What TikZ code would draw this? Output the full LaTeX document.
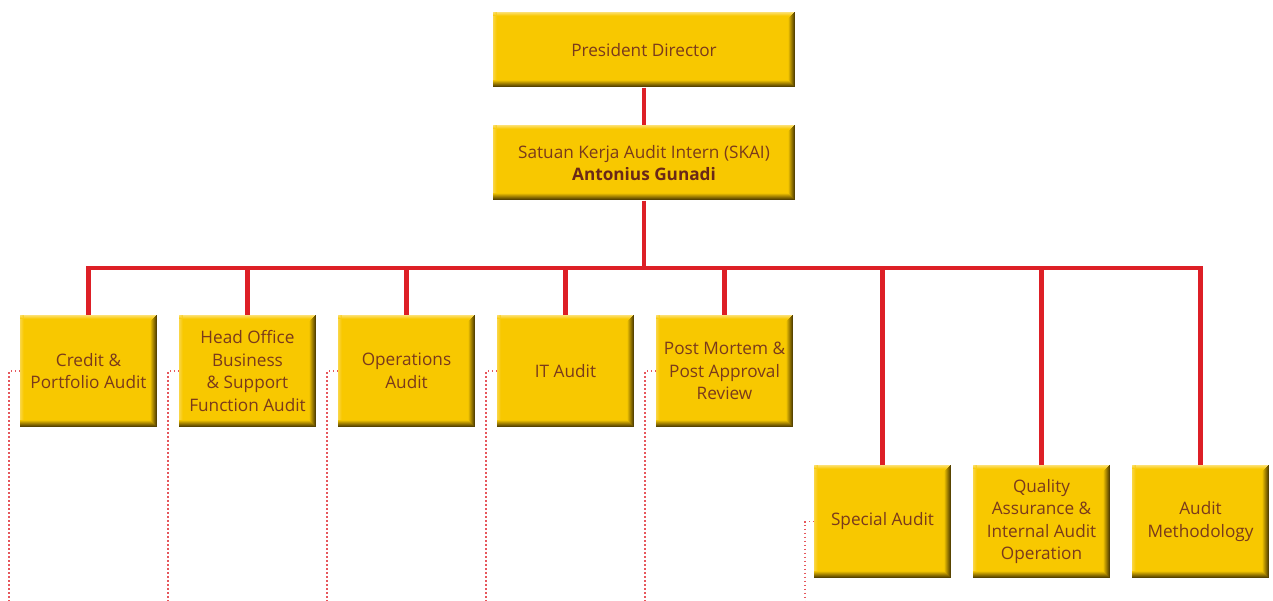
\documentclass[tikz,border=0pt]{standalone}
\usepackage{fontspec}
\setmainfont{Open Sans}
\definecolor{boxyellow}{HTML}{F8C800}
\definecolor{boxdark}{HTML}{584400}
\definecolor{boxlight}{HTML}{FDE690}
\definecolor{txtbrown}{HTML}{7A3A1C}
\definecolor{txtbold}{HTML}{6A2818}
\definecolor{linered}{HTML}{DD1F26}
\tikzset{
  orgbox/.style={rectangle, inner sep=0pt, fill=boxyellow, text=txtbrown,
    align=center, font=\fontsize{17.2}{22.5}\selectfont,
    path picture={
      \foreach \i in {0,...,3} {
        \pgfmathtruncatemacro{\pc}{80-\i*22}
        \fill[boxlight!\pc!boxyellow]
          ([yshift=-\i pt]path picture bounding box.north west) rectangle
          ([yshift=-\i pt-1pt]path picture bounding box.north east);
        \fill[boxlight!\pc!boxyellow, opacity=0.6]
          ([xshift=\i pt]path picture bounding box.north west) rectangle
          ([xshift=\i pt+1pt]path picture bounding box.south west);
      }
      \foreach \i in {0,...,6} {
        \pgfmathtruncatemacro{\pc}{100-\i*16}
        \fill[boxdark!\pc!boxyellow]
          ([xshift=-\i pt, yshift=\i pt]path picture bounding box.south west) rectangle
          ([xshift=-\i pt, yshift=\i pt+1pt]path picture bounding box.south east);
        \fill[boxdark!\pc!boxyellow]
          ([xshift=-\i pt, yshift=\i pt]path picture bounding box.south east) rectangle
          ([xshift=-\i pt-1pt, yshift=-\i pt]path picture bounding box.north east);
      }
    }},
  topbox/.style={orgbox, minimum width=302pt, minimum height=75pt},
  unitbox/.style={orgbox, minimum width=137pt, minimum height=112.5pt},
  redline/.style={draw=linered, line width=4.5pt},
  dotline/.style={draw=linered!75, line width=1.3pt, dash pattern=on 1.3pt off 2.7pt}
}
\begin{document}
\begin{tikzpicture}[x=1pt,y=-1pt]
\useasboundingbox (0,0) rectangle (1273,601);
\coordinate (bus) at (644,268);
\node[topbox] (pd) at (644,50) {President Director};
\node[topbox] (skai) at (644,163) {Satuan Kerja Audit Intern (SKAI)\\{\bfseries\color{txtbold}Antonius Gunadi}};
\node[unitbox] (u1) at (88.5,371) {Credit \&\\Portfolio Audit};
\node[unitbox] (u2) at (247.5,371) {Head Office\\Business\\\& Support\\Function Audit};
\node[unitbox] (u3) at (406.5,371) {Operations\\Audit};
\node[unitbox] (u4) at (565.5,371) {IT Audit};
\node[unitbox] (u5) at (724.5,371) {Post Mortem \&\\Post Approval\\Review};
\node[unitbox] (u6) at (882.5,521.5) {Special Audit};
\node[unitbox] (u7) at (1041.5,521.5) {Quality\\Assurance \&\\Internal Audit\\Operation};
\node[unitbox] (u8) at (1200.5,521.5) {Audit\\Methodology};
\draw[redline] (pd.south) -- (skai.north);
\draw[redline] (skai.south) -- (bus);
\draw[redline] (u1.north) |- (bus) -| (u8.north);
\foreach \u in {u2,u3,u4,u5,u6,u7} {\draw[redline] (\u.north) -- (\u.north |- bus);}
\coordinate (d1) at (9,601);
\coordinate (d2) at (168,601);
\coordinate (d3) at (327,601);
\coordinate (d4) at (486,601);
\coordinate (d5) at (645,601);
\coordinate (d6) at (805,601);
\draw[dotline] (u1.west) -| (d1);
\draw[dotline] (u2.west) -| (d2);
\draw[dotline] (u3.west) -| (d3);
\draw[dotline] (u4.west) -| (d4);
\draw[dotline] (u5.west) -| (d5);
\draw[dotline] (u6.west) -| (d6);
\end{tikzpicture}
\end{document}
